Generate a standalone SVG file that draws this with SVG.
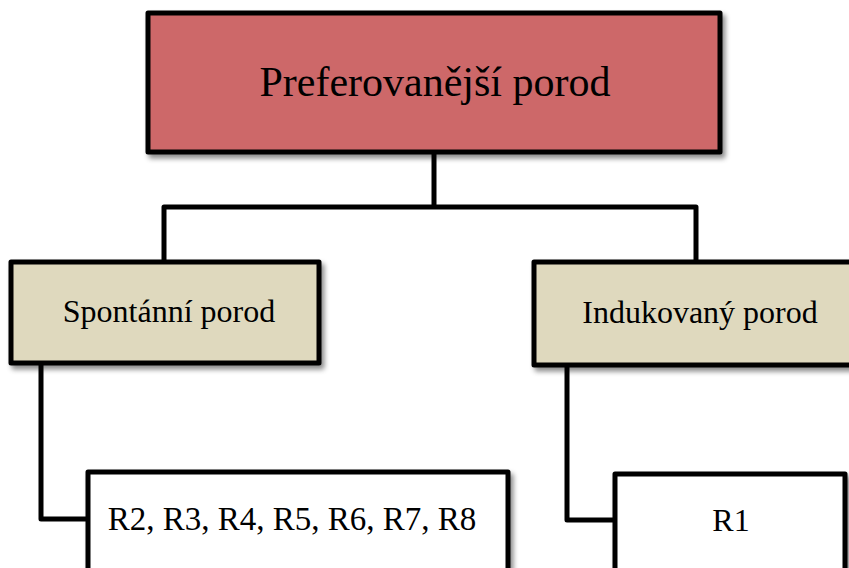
<svg xmlns="http://www.w3.org/2000/svg" width="849" height="568" viewBox="0 0 849 568">
<defs>
<filter id="sh" x="-10%" y="-10%" width="130%" height="140%">
<feDropShadow dx="3" dy="4" stdDeviation="2.5" flood-color="#000" flood-opacity="0.45"/>
</filter>
<style>
.box{stroke:#000;stroke-width:5;stroke-linejoin:round;filter:url(#sh)}
.top{fill:#CD6869}
.mid{fill:#DFD9BE}
.leaf{fill:#fff}
.conn{fill:none;stroke:#000;stroke-width:5;stroke-linejoin:round}
text{font-family:"Liberation Serif","Times New Roman",serif;fill:#000;text-anchor:middle}
</style>
</defs>
<rect width="849" height="568" fill="#fff"/>
<g id="connectors">
<path class="conn" d="M434,152 V207 M164,262 V207 H696 V262"/>
<path class="conn" d="M41,365 V519 H89"/>
<path class="conn" d="M567,366 V520 H616"/>
</g>
<g id="n-top">
<rect class="box top" x="148" y="13" width="572" height="139"/>
<text x="435" y="96" font-size="42">Preferovanější porod</text>
</g>
<g id="n-spont">
<rect class="box mid" x="11" y="262" width="308" height="101"/>
<text x="169" y="322" font-size="32">Spontánní porod</text>
</g>
<g id="n-induk">
<rect class="box mid" x="534" y="262" width="320" height="103"/>
<text x="700" y="323" font-size="32">Indukovaný porod</text>
</g>
<g id="n-r2">
<rect class="box leaf" x="88" y="472" width="420" height="110"/>
<text x="292" y="530" font-size="33">R2, R3, R4, R5, R6, R7, R8</text>
</g>
<g id="n-r1">
<rect class="box leaf" x="615" y="474" width="230" height="110"/>
<text x="731" y="531" font-size="32">R1</text>
</g>
</svg>
